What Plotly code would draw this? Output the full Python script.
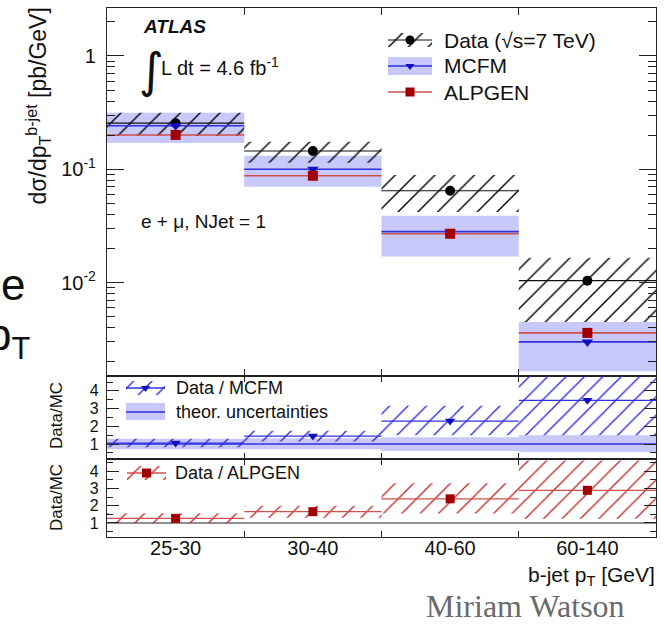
import math
import plotly.graph_objects as go

W, H = 667, 624

# b-jet pT bins (displayed as equal-width bins)
bin_labels = ["25-30", "30-40", "40-60", "60-140"]
bin_edges = [0, 1, 2, 3, 4]

# Measured cross section [pb/GeV] with total uncertainty band
data_xs = [0.255, 0.145, 0.0647, 0.0104]
data_lo = [0.197, 0.114, 0.042, 0.0045]
data_hi = [0.315, 0.175, 0.089, 0.0166]

# MCFM prediction with theoretical uncertainty band
mcfm_xs = [0.242, 0.100, 0.0282, 0.0030]
mcfm_lo = [0.171, 0.070, 0.017, 0.00165]
mcfm_hi = [0.315, 0.132, 0.039, 0.0045]

# ALPGEN prediction
alpgen_xs = [0.201, 0.0877, 0.0270, 0.0036]

main_y_ticks = [0.01, 0.1, 1]
main_y_text = ["10<sup>-2</sup>", "10<sup>-1</sup>", "1"]
ratio_ticks = [1, 2, 3, 4]

FONT = "Liberation Sans, Arial, sans-serif"
BLUE = "#3030e0"
NAVY = "#1010c0"
RED = "#d05050"
DARKRED = "#a00000"
BAND = "rgba(190,190,250,0.85)"


def px(x):
    return x / W


def py(y):
    return 1 - y / H


nb = len(bin_labels)
centers = [(bin_edges[i] + bin_edges[i + 1]) / 2 for i in range(nb)]


def steps(vals):
    xs, ys = [], []
    for i, v in enumerate(vals):
        xs += [bin_edges[i], bin_edges[i + 1], None]
        ys += [v, v, None]
    return xs, ys


def boxes(lo, hi):
    xs, ys = [], []
    for i in range(len(lo)):
        a, b = bin_edges[i], bin_edges[i + 1]
        xs += [a, b, b, a, a, None]
        ys += [lo[i], lo[i], hi[i], hi[i], lo[i], None]
    return xs, ys


def ratio(num, den):
    return [n / d for n, d in zip(num, den)]


def hatch(color, size=13):
    return dict(shape="/", size=size, solidity=0.1, fgcolor=color,
                fgopacity=1, bgcolor="rgba(0,0,0,0)")


fig = go.Figure()


def band_trace(lo, hi, xa, ya, fillcolor=None, pattern=None):
    bx, by = boxes(lo, hi)
    kw = dict(x=bx, y=by, xaxis=xa, yaxis=ya, mode="lines", fill="toself",
              line=dict(width=0), hoverinfo="skip", showlegend=False)
    if pattern is not None:
        kw["fillcolor"] = "rgba(0,0,0,0)"
        kw["fillpattern"] = pattern
    else:
        kw["fillcolor"] = fillcolor
    fig.add_trace(go.Scatter(**kw))


def line_trace(vals, xa, ya, color, width):
    sx, sy = steps(vals)
    fig.add_trace(go.Scatter(x=sx, y=sy, xaxis=xa, yaxis=ya, mode="lines",
                             line=dict(color=color, width=width),
                             hoverinfo="skip", showlegend=False))


def marker_trace(vals, xa, ya, symbol, color, size):
    fig.add_trace(go.Scatter(x=centers, y=vals, xaxis=xa, yaxis=ya,
                             mode="markers",
                             marker=dict(symbol=symbol, color=color, size=size,
                                         line=dict(width=0)),
                             showlegend=False))


# ---- main panel: differential cross section ----
band_trace(mcfm_lo, mcfm_hi, "x", "y", fillcolor=BAND)
band_trace(data_lo, data_hi, "x", "y", pattern=hatch("#000000", 14))
line_trace(data_xs, "x", "y", "#111111", 1.2)
line_trace(mcfm_xs, "x", "y", BLUE, 1.6)
line_trace(alpgen_xs, "x", "y", RED, 1.6)
marker_trace(data_xs, "x", "y", "circle", "black", 10)
marker_trace(mcfm_xs, "x", "y", "triangle-down", NAVY, 10)
marker_trace(alpgen_xs, "x", "y", "square", DARKRED, 10)

# ---- ratio panel: Data / MCFM ----
theo_lo = ratio(mcfm_lo, mcfm_xs)
theo_hi = ratio(mcfm_hi, mcfm_xs)
band_trace(theo_lo, theo_hi, "x2", "y2", fillcolor=BAND)
line_trace(ratio(mcfm_xs, mcfm_xs), "x2", "y2", BLUE, 1.6)
band_trace(ratio(data_lo, mcfm_xs), ratio(data_hi, mcfm_xs), "x2", "y2",
           pattern=hatch("#2020e8"))
line_trace(ratio(data_xs, mcfm_xs), "x2", "y2", BLUE, 1.3)
marker_trace(ratio(data_xs, mcfm_xs), "x2", "y2", "triangle-down", NAVY, 9)

# ---- ratio panel: Data / ALPGEN ----
fig.add_trace(go.Scatter(x=[bin_edges[0], bin_edges[-1]], y=[1, 1],
                         xaxis="x3", yaxis="y3", mode="lines",
                         line=dict(color="#222222", width=1.2),
                         hoverinfo="skip", showlegend=False))
band_trace(ratio(data_lo, alpgen_xs), ratio(data_hi, alpgen_xs), "x3", "y3",
           pattern=hatch("#c02020"))
line_trace(ratio(data_xs, alpgen_xs), "x3", "y3", RED, 1.3)
marker_trace(ratio(data_xs, alpgen_xs), "x3", "y3", "square", DARKRED, 9)


# ---- legend keys, drawn on a page-sized pixel axis ----
def key_box(x0, x1, y0, y1, fillcolor=None, pattern=None):
    kw = dict(x=[x0, x1, x1, x0, x0], y=[y0, y0, y1, y1, y0], xaxis="x4",
              yaxis="y4", mode="lines", fill="toself", line=dict(width=0),
              hoverinfo="skip", showlegend=False)
    if pattern is not None:
        kw["fillcolor"] = "rgba(0,0,0,0)"
        kw["fillpattern"] = pattern
    else:
        kw["fillcolor"] = fillcolor
    fig.add_trace(go.Scatter(**kw))


def key_line(x0, x1, y, color, width, symbol=None, mcolor=None, msize=9):
    fig.add_trace(go.Scatter(x=[x0, x1], y=[y, y], xaxis="x4", yaxis="y4",
                             mode="lines", line=dict(color=color, width=width),
                             hoverinfo="skip", showlegend=False))
    if symbol:
        fig.add_trace(go.Scatter(x=[(x0 + x1) / 2], y=[y], xaxis="x4",
                                 yaxis="y4", mode="markers",
                                 marker=dict(symbol=symbol, color=mcolor,
                                             size=msize, line=dict(width=0)),
                                 hoverinfo="skip", showlegend=False))


key_box(388, 432, 33, 47, pattern=hatch("#000000", 14))
key_line(388, 432, 40, "#111111", 1.2, "circle", "black", 9)
key_box(388, 432, 57, 75, fillcolor=BAND)
key_line(388, 432, 66, BLUE, 1.6, "triangle-down", NAVY, 8)
key_line(388, 432, 92, RED, 1.6, "square", DARKRED, 9)

key_box(126, 165, 381, 395, pattern=hatch("#2020e8"))
key_line(126, 165, 388, BLUE, 1.3, "triangle-down", NAVY, 8)
key_box(126, 165, 403, 420, fillcolor=BAND)
key_line(126, 165, 412, BLUE, 1.6)
key_box(127, 166, 466, 480, pattern=hatch("#c02020"))
key_line(127, 166, 473, RED, 1.3, "square", DARKRED, 9)

# ---- axes ----
xdom = [px(107), px(656)]
frame = dict(showline=True, linecolor="#222222", linewidth=1.3,
             mirror="ticks", tickcolor="#222222", tickwidth=1.2)
xcommon = dict(domain=xdom, range=[bin_edges[0], bin_edges[-1]],
               showgrid=False, zeroline=False, **frame)

decades = [0.001, 0.01, 0.1, 1]
minor_log = [k * d for d in decades for k in range(2, 10)]

fig.update_layout(
    width=W, height=H,
    margin=dict(l=0, r=0, t=0, b=0),
    paper_bgcolor="white", plot_bgcolor="rgba(0,0,0,0)",
    font=dict(family=FONT, color="#111111"),
    showlegend=False,
    xaxis=dict(anchor="y", tickvals=bin_edges[1:-1], ticks="inside",
               ticklen=7, showticklabels=False, **xcommon),
    xaxis2=dict(anchor="y2", tickvals=bin_edges[1:-1], ticks="inside",
                ticklen=6, showticklabels=False, **xcommon),
    xaxis3=dict(anchor="y3", tickvals=centers, ticktext=bin_labels,
                ticks="", tickfont=dict(size=20, family=FONT),
                ticklabelstandoff=-7,
                minor=dict(tickvals=bin_edges[1:-1], ticks="inside",
                           ticklen=6, tickcolor="#222222"),
                **xcommon),
    yaxis=dict(anchor="x", domain=[py(376), py(8)], type="log",
               range=[math.log10(0.0015), math.log10(2.65)],
               tickvals=main_y_ticks, ticktext=main_y_text, ticks="inside",
               ticklen=17, tickfont=dict(size=20, family=FONT),
               ticklabelstandoff=6,
               minor=dict(tickvals=minor_log, ticks="inside", ticklen=8,
                          tickcolor="#222222"),
               showgrid=False, zeroline=False, **frame),
    yaxis2=dict(anchor="x2", domain=[py(459), py(376)],
                range=[0.153, 4.84], tickvals=ratio_ticks, ticks="inside",
                ticklen=12, tickfont=dict(size=16, family=FONT),
                ticklabelstandoff=4,
                minor=dict(dtick=0.5, tick0=0, ticks="inside", ticklen=6,
                           tickcolor="#222222"),
                showgrid=False, zeroline=False, **frame),
    yaxis3=dict(anchor="x3", domain=[py(537), py(459)],
                range=[0.19, 4.70], tickvals=ratio_ticks, ticks="inside",
                ticklen=12, tickfont=dict(size=16, family=FONT),
                ticklabelstandoff=4,
                minor=dict(dtick=0.5, tick0=0, ticks="inside", ticklen=6,
                           tickcolor="#222222"),
                showgrid=False, zeroline=False, **frame),
    xaxis4=dict(domain=[0, 1], range=[0, W], visible=False, anchor="y4"),
    yaxis4=dict(domain=[0, 1], range=[H, 0], visible=False, anchor="x4"),
)


def label(text, x, y, size, xanchor="left", yanchor="middle", angle=0,
          family=FONT, color="#111111"):
    fig.add_annotation(text=text, x=px(x), y=py(y), xref="paper",
                       yref="paper", xanchor=xanchor, yanchor=yanchor,
                       showarrow=False, textangle=angle,
                       font=dict(size=size, family=family, color=color))


label("<b><i>ATLAS</i></b>", 141, 27, 19)
label("∫", 137, 70, 48, family="DejaVu Sans")
label("L dt = 4.6 fb<sup>-1</sup>", 159, 67, 20)
label("e + μ, NJet = 1", 139, 221, 19)

label("Data (√s=7 TeV)", 442, 40, 21)
label("MCFM", 442, 66, 21)
label("ALPGEN", 442, 92, 21)

label("Data / MCFM", 174, 388, 18)
label("theor. uncertainties", 174, 412, 18)
label("Data / ALPGEN", 173, 473, 18)

label("b-jet p<sub>T</sub> [GeV]", 657, 576, 21, xanchor="right")
label("dσ/dp<sub>T</sub><sup>b-jet</sup> [pb/GeV]", 38, 6, 23,
      xanchor="center", yanchor="top", angle=-90)
label("Data/MC", 56, 416, 17, xanchor="center", angle=-90)
label("Data/MC", 56, 498, 17, xanchor="center", angle=-90)

# fragments of the surrounding slide text and the author credit
label("e", -1, 285, 44)
label("p<sub>T</sub>", -15, 338, 44)
label("Miriam Watson", 525, 606, 32, xanchor="center",
      family="Liberation Serif, Times New Roman, serif", color="#6a6a6a")

fig.write_html("out.html")
